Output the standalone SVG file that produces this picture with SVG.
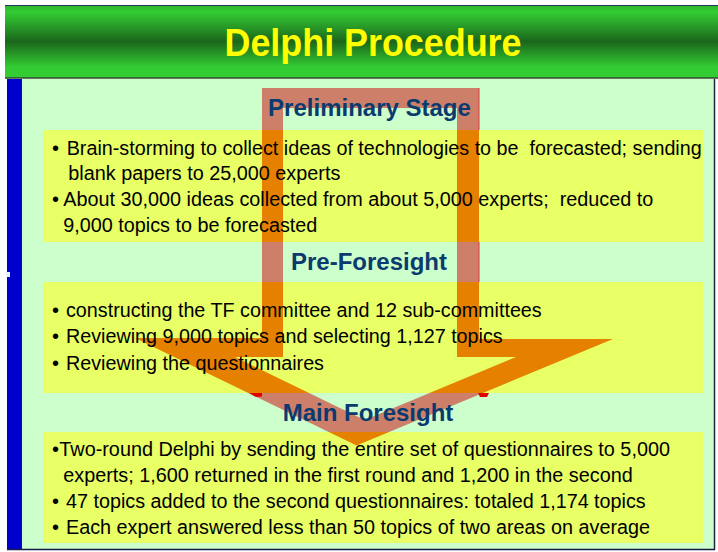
<svg xmlns="http://www.w3.org/2000/svg" width="718" height="552" viewBox="0 0 718 552">
<defs>
<linearGradient id="tg" x1="0" y1="0" x2="0" y2="1">
<stop offset="0" stop-color="#2DB52D"/>
<stop offset="0.1" stop-color="#33CC33"/>
<stop offset="0.5" stop-color="#1B661B"/>
<stop offset="0.85" stop-color="#33CC33"/>
<stop offset="1" stop-color="#33CC33"/>
</linearGradient>
<clipPath id="yc">
<rect x="43" y="130" width="660" height="112"/>
<rect x="43" y="282" width="660" height="111"/>
<rect x="43" y="432" width="660" height="111"/>
</clipPath>
<path id="arrow" fill-rule="evenodd" d="M262,88 H479 V339 H613 L356.6,445.5 L135,338 H262 Z M283,108 V357 H235 L364.6,420 L516,357 H457 V108 Z"/>
</defs>
<style>
.head{font-family:"Liberation Sans",Arial,sans-serif;font-weight:bold;font-size:24px;fill:#0B3A6E;text-anchor:middle}
.body{font-family:"Liberation Sans",Arial,sans-serif;font-size:20px;fill:#000}
.box{fill:#E8FF66}
</style>
<rect x="0" y="0" width="718" height="552" fill="#FFFFFF"/>
<g id="title">
<rect x="5" y="5" width="713" height="73" fill="url(#tg)"/>
<line x1="5" y1="5.5" x2="718" y2="5.5" stroke="#1F3A5A" stroke-width="1"/>
<line x1="5" y1="78" x2="718" y2="78" stroke="#2F4A2F" stroke-width="1.5"/>
<text x="373" y="56" font-family="'Liberation Sans',Arial,sans-serif" font-weight="bold" font-size="38" fill="#FFFF00" text-anchor="middle" textLength="297" lengthAdjust="spacingAndGlyphs">Delphi Procedure</text>
</g>
<g id="background">
<rect x="21" y="79" width="693" height="470" fill="#CCFFCC"/>
<rect x="7" y="79" width="14" height="470" fill="#0000CC"/>
<line x1="21.5" y1="79" x2="21.5" y2="549" stroke="#1A1A4A" stroke-width="1"/>
<line x1="714.5" y1="79" x2="714.5" y2="550" stroke="#1A2A3A" stroke-width="1.5"/>
<line x1="7" y1="549.5" x2="715" y2="549.5" stroke="#1A1A4A" stroke-width="1.5"/>
<rect x="6" y="272" width="4" height="5" fill="#E8F0FF"/>
</g>
<g id="connectors">
<use href="#arrow" fill="#CD7F6A"/>
<line x1="479" y1="88" x2="479" y2="339" stroke="#E03A3A" stroke-width="1"/>
</g>
<g id="box-preliminary"><rect class="box" x="43" y="130" width="660" height="112"/></g>
<g id="box-preforesight"><rect class="box" x="43" y="282" width="660" height="111"/></g>
<g id="box-main"><rect class="box" x="43" y="432" width="660" height="111"/></g>
<g id="arrow-overlay">
<use href="#arrow" fill="#E68000" clip-path="url(#yc)"/>
<polygon points="249,393 262,393 262,396.5 256,397" fill="#E00000"/>
<polygon points="478,393 489,393 487,397 480,397" fill="#E00000"/>
</g>
<g id="preliminary-stage">
<text class="head" x="369.5" y="116">Preliminary Stage</text>
<text class="body" x="52" y="155">•</text>
<text class="body" x="66.7" y="155" xml:space="preserve" textLength="635" lengthAdjust="spacingAndGlyphs">Brain-storming to collect ideas of technologies to be  forecasted; sending</text>
<text class="body" x="68.3" y="180" textLength="272" lengthAdjust="spacingAndGlyphs">blank papers to 25,000 experts</text>
<text class="body" x="52" y="206">•</text>
<text class="body" x="63.3" y="206" xml:space="preserve" textLength="590" lengthAdjust="spacingAndGlyphs">About 30,000 ideas collected from about 5,000 experts;  reduced to</text>
<text class="body" x="63.3" y="231.7" textLength="254" lengthAdjust="spacingAndGlyphs">9,000 topics to be forecasted</text>
</g>
<g id="pre-foresight">
<text class="head" x="369" y="270">Pre-Foresight</text>
<text class="body" x="52" y="316.7">•</text>
<text class="body" x="66" y="316.7" textLength="475.7" lengthAdjust="spacingAndGlyphs">constructing the TF committee and 12 sub-committees</text>
<text class="body" x="52" y="343.3">•</text>
<text class="body" x="66" y="343.3" textLength="436.7" lengthAdjust="spacingAndGlyphs">Reviewing 9,000 topics and selecting 1,127 topics</text>
<text class="body" x="52" y="370">•</text>
<text class="body" x="66" y="370" textLength="258" lengthAdjust="spacingAndGlyphs">Reviewing the questionnaires</text>
</g>
<g id="main-foresight">
<text class="head" x="368" y="421">Main Foresight</text>
<text class="body" x="52" y="456">•</text>
<text class="body" x="59.3" y="456" textLength="610.7" lengthAdjust="spacingAndGlyphs">Two-round Delphi by sending the entire set of questionnaires to 5,000</text>
<text class="body" x="63.3" y="481.7" textLength="569.4" lengthAdjust="spacingAndGlyphs">experts; 1,600 returned in the first round and 1,200 in the second</text>
<text class="body" x="52" y="508.3">•</text>
<text class="body" x="66" y="508.3" textLength="579.7" lengthAdjust="spacingAndGlyphs">47 topics added to the second questionnaires: totaled 1,174 topics</text>
<text class="body" x="52" y="534">•</text>
<text class="body" x="66" y="534" textLength="584" lengthAdjust="spacingAndGlyphs">Each expert answered less than 50 topics of two areas on average</text>
</g>
</svg>
